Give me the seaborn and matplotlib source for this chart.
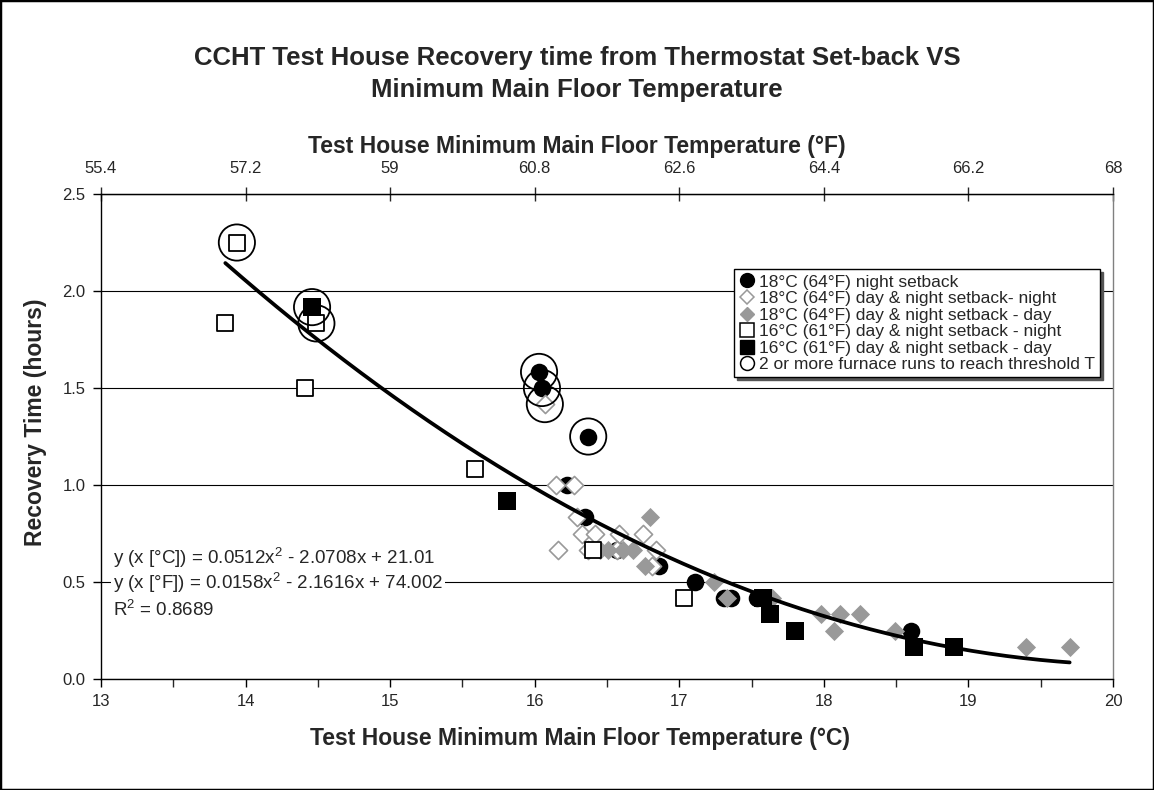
import numpy as np
import pandas as pd
import seaborn as sns
import matplotlib.pyplot as plt
from matplotlib.lines import Line2D
from matplotlib.patches import Rectangle

# Recovery time (hours) vs minimum main floor temperature (°C)
night18_c = [16.03, 16.05, 16.37, 16.22, 16.35, 16.57, 16.86, 17.11, 17.31, 17.36, 17.54, 18.60]
night18_h = [1.583, 1.5, 1.25, 1.0, 0.833, 0.667, 0.583, 0.5, 0.417, 0.417, 0.417, 0.25]

dn18_night_c = [16.07, 16.15, 16.27, 16.29, 16.33, 16.42, 16.58, 16.75, 16.16, 16.37, 16.57, 16.84, 16.81]
dn18_night_h = [1.417, 1.0, 1.0, 0.833, 0.75, 0.75, 0.75, 0.75, 0.667, 0.667, 0.667, 0.667, 0.583]

dn18_day_c = [16.80, 16.45, 16.51, 16.61, 16.68, 16.76, 17.24, 17.33, 17.64, 17.98, 18.11, 18.25, 18.07, 18.49, 19.40, 19.70]
dn18_day_h = [0.833, 0.667, 0.667, 0.667, 0.667, 0.583, 0.5, 0.417, 0.417, 0.333, 0.333, 0.333, 0.25, 0.25, 0.167, 0.167]

dn16_night_c = [13.94, 13.86, 14.49, 14.41, 15.59, 16.40, 17.03]
dn16_night_h = [2.25, 1.833, 1.833, 1.5, 1.083, 0.667, 0.417]

dn16_day_c = [14.46, 15.81, 17.58, 17.63, 17.80, 18.62, 18.90]
dn16_day_h = [1.917, 0.917, 0.417, 0.333, 0.25, 0.167, 0.167]

# points that needed 2 or more furnace runs
multi_c = [13.94, 14.46, 14.49, 16.03, 16.05, 16.07, 16.37]
multi_h = [2.25, 1.917, 1.833, 1.583, 1.5, 1.417, 1.25]

# polynomial trendline (°C), as printed on the chart
fit_coef = [0.0512, -2.0708, 21.01]
fit_range = [13.86, 19.70]

f_ticks = [55.4, 57.2, 59, 60.8, 62.6, 64.4, 66.2, 68]
f_tick_labels = ["55.4", "57.2", "59", "60.8", "62.6", "64.4", "66.2", "68"]

labels = [
    "18°C (64°F) night setback",
    "18°C (64°F) day & night setback- night",
    "18°C (64°F) day & night setback - day",
    "16°C (61°F) day & night setback - night",
    "16°C (61°F) day & night setback - day",
    "2 or more furnace runs to reach threshold T",
]

sns.set_style("white")
plt.rcParams["font.family"] = ["Liberation Sans", "DejaVu Sans"]
plt.rcParams["mathtext.fontset"] = "custom"
plt.rcParams["mathtext.rm"] = "Liberation Sans"
plt.rcParams["mathtext.default"] = "regular"

GRAY = "#999999"

fig = plt.figure(figsize=(11.54, 7.90), dpi=100)
ax = fig.add_axes([0.0875, 0.1405, 0.9645 - 0.0875, 0.7544 - 0.1405])

sns.scatterplot(x=night18_c, y=night18_h, ax=ax, marker="o", s=160,
                color="black", edgecolor="black", linewidth=0, zorder=3)
sns.scatterplot(x=dn18_night_c, y=dn18_night_h, ax=ax, marker="D", s=85,
                facecolor="white", edgecolor=GRAY, linewidth=1.2, zorder=4)
sns.scatterplot(x=dn18_day_c, y=dn18_day_h, ax=ax, marker="D", s=95,
                color=GRAY, edgecolor=GRAY, linewidth=0, zorder=5)
sns.scatterplot(x=dn16_night_c, y=dn16_night_h, ax=ax, marker="s", s=135,
                facecolor="white", edgecolor="black", linewidth=1.3, zorder=6)
sns.scatterplot(x=dn16_day_c, y=dn16_day_h, ax=ax, marker="s", s=155,
                color="black", edgecolor="black", linewidth=0, zorder=7)
sns.scatterplot(x=multi_c, y=multi_h, ax=ax, marker="o", s=680,
                facecolor="none", edgecolor="black", linewidth=1.3, zorder=8)

# trendline
xs = np.linspace(fit_range[0], fit_range[1], 200)
trend = pd.DataFrame({"c": xs, "h": np.polyval(fit_coef, xs)})
sns.lineplot(data=trend, x="c", y="h", ax=ax, color="black", linewidth=2.7, zorder=9)

ax.set_xlim(13, 20)
ax.set_ylim(0, 2.5)
ax.set_xticks(range(13, 21))
ax.set_xticks(np.arange(13.5, 20, 1), minor=True)
ax.set_yticks([0, 0.5, 1.0, 1.5, 2.0, 2.5])
ax.set_yticklabels(["0.0", "0.5", "1.0", "1.5", "2.0", "2.5"])
ax.tick_params(axis="both", which="major", labelsize=12, direction="out",
               length=6, width=1, color="black", pad=5,
               bottom=True, left=True)
ax.tick_params(axis="x", which="minor", direction="out", length=6, width=1,
               bottom=True)
ax.grid(axis="y", color="black", linewidth=0.8)
ax.grid(axis="x", visible=False)
for side in ["left", "bottom", "top"]:
    ax.spines[side].set_color("black")
    ax.spines[side].set_linewidth(1.0)
ax.spines["right"].set_color("#808080")
ax.spines["right"].set_linewidth(1.0)
ax.set_axisbelow(True)

ax.set_xlabel("Test House Minimum Main Floor Temperature (°C)", fontsize=16.5,
              fontweight="bold")
ax.xaxis.set_label_coords(0.473, -0.098)
ax.set_ylabel("Recovery Time (hours)", fontsize=16.5, fontweight="bold")
ax.yaxis.set_label_coords(-0.053, 0.53)

top = ax.secondary_xaxis("top", functions=(lambda c: c * 1.8 + 32,
                                           lambda f: (f - 32) / 1.8))
top.set_xticks(f_ticks)
top.set_xticklabels(f_tick_labels)
top.tick_params(direction="inout", length=10, width=1, labelsize=12, pad=8)
fig.text(0.5, 0.815, "Test House Minimum Main Floor Temperature (°F)",
         ha="center", va="center", fontsize=16.5, fontweight="bold")

# trendline equations
eq_box = dict(facecolor="white", edgecolor="none", pad=1.5)
ax.text(0.012, 0.249, "y (x [°C]) = 0.0512x$^2$ - 2.0708x + 21.01", transform=ax.transAxes,
        fontsize=13.5, va="center", ha="left", bbox=eq_box, zorder=10)
ax.text(0.012, 0.199, "y (x [°F]) = 0.0158x$^2$ - 2.1616x + 74.002", transform=ax.transAxes,
        fontsize=13.5, va="center", ha="left", bbox=eq_box, zorder=10)
ax.text(0.012, 0.142, "R$^2$ = 0.8689", transform=ax.transAxes,
        fontsize=13.5, va="center", ha="left", bbox=eq_box, zorder=10)

handles = [
    Line2D([], [], ls="none", marker="o", ms=10, mfc="black", mec="black"),
    Line2D([], [], ls="none", marker="D", ms=7, mfc="white", mec=GRAY, mew=1.1),
    Line2D([], [], ls="none", marker="D", ms=7, mfc=GRAY, mec=GRAY),
    Line2D([], [], ls="none", marker="s", ms=10, mfc="white", mec="black", mew=1.1),
    Line2D([], [], ls="none", marker="s", ms=10, mfc="black", mec="black"),
    Line2D([], [], ls="none", marker="o", ms=10, mfc="white", mec="black", mew=1.1),
]
leg = ax.legend(handles, labels, loc="upper right", bbox_to_anchor=(0.987, 0.845),
                borderaxespad=0, fontsize=12.5, frameon=True, fancybox=False,
                edgecolor="black", framealpha=1, handlelength=0.8,
                handletextpad=0.3, labelspacing=0.08, borderpad=0.3,
                shadow={"color": "#555555", "alpha": 1})
leg.get_frame().set_linewidth(1.0)
leg.set_zorder(20)

fig.text(0.5, 0.927, "CCHT Test House Recovery time from Thermostat Set-back VS",
         ha="center", va="center", fontsize=18.5, fontweight="bold")
fig.text(0.5, 0.886, "Minimum Main Floor Temperature",
         ha="center", va="center", fontsize=18.5, fontweight="bold")

fig.patches.append(Rectangle((0, 0), 1, 1, transform=fig.transFigure, fill=False,
                             edgecolor="black", linewidth=2.5))

fig.savefig("out.png", dpi=100)
